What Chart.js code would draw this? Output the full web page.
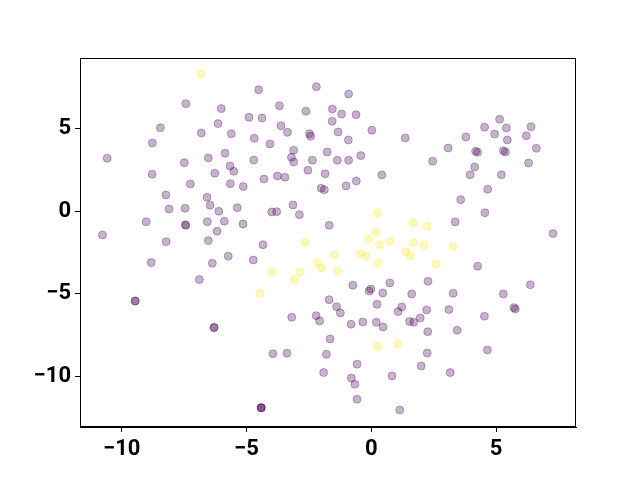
<!DOCTYPE html>
<html>
<head>
<meta charset="utf-8">
<script src="https://cdn.jsdelivr.net/npm/chart.js@4"></script>
<style>
  body { margin: 0; background: #fff; }
  #wrap { width: 640px; height: 480px; }
</style>
</head>
<body>
<div id="wrap"><canvas id="scatter" width="640" height="480"></canvas></div>
<script>
// --- data ---

// group 0 (dark purple)
const purpleX = [
  -7.43, -6.01, -4.90, -8.45, -6.14, -6.81, -5.61, -8.77, -10.58, -7.49,
  -6.53, -5.86, -5.66, -5.51, -6.27, -8.78, -7.25, -5.65, -5.13, -8.23,
  -6.58, -6.46, -6.11, -5.37, -8.10, -7.46, -9.02, -7.45, -7.43, -6.57,
  -5.89, -5.14, -6.18, -10.77, -8.22, -6.53,
  -4.51, -2.20, -0.91, -3.68, -2.62, -1.56, -1.19, -0.61, -4.38, -1.57,
  -3.62, -3.36, -2.48, -2.43, -1.33, 0.02, 1.36, -4.69, -4.06, -0.92,
  -3.11, -3.20, -3.11, -1.77, -4.71, -2.36, -1.36, -0.91, -0.42, -2.54,
  -1.85, -3.76, -3.46, -4.30, 0.42, -2.01, -1.88, -1.01, -0.60, -3.14,
  -2.88, -3.99, -3.79, -1.69, -4.34,
  5.14, 4.54, 5.41, 6.40, 4.94, 6.21, 3.79, 5.45, 3.08, 4.18,
  4.26, 5.29, 5.37, 6.61, 2.46, 6.30, 4.14, 3.96, 5.21, 4.66,
  3.58, 4.55, 3.36, 7.28,
  -8.82, -6.37, -5.73, -4.73, -6.89, -9.46, -9.46, -6.30, -6.30,
  -0.74, -0.02, -0.09, 0.74, 0.46, 1.62, -1.69, -1.39, -1.24, 0.23,
  1.22, 1.07, -2.21, -2.07, -3.19, -0.81, -0.34, 0.20, 0.47, 1.53,
  1.70, -1.65, -3.94, -3.38, -1.80, -0.57, -1.91, -0.80, -0.66, 0.83,
  -0.57, -4.41, -4.41, -4.41, 1.14,
  4.26, 2.27, 3.28, 5.29, 6.37, 2.22, 3.11, 5.71, 5.77, 4.53,
  1.96, 2.26, 3.44, 2.24, 4.65, 2.00, 3.16
];
const purpleY = [
  6.52, 6.22, 5.69, 5.06, 5.31, 4.74, 4.70, 4.14, 3.21, 2.94,
  3.23, 3.51, 2.74, 2.42, 2.30, 2.24, 1.65, 1.67, 1.49, 0.98,
  0.84, 0.36, -0.01, 0.21, 0.13, 0.18, -0.64, -0.82, -0.86, -0.64,
  -0.61, -0.78, -1.22, -1.44, -1.85, -1.78,
  7.37, 7.55, 7.11, 6.40, 6.06, 6.20, 5.89, 5.85, 5.65, 5.45,
  5.18, 4.78, 4.70, 4.54, 4.80, 4.91, 4.44, 4.42, 4.08, 4.32,
  3.69, 3.27, 2.98, 3.59, 3.10, 3.09, 3.09, 3.09, 3.37, 2.48,
  2.27, 2.13, 2.06, 1.95, 2.20, 1.39, 1.30, 1.53, 1.83, 0.38,
  -0.21, -0.05, -0.03, -0.86, -2.03,
  5.57, 5.09, 5.05, 5.12, 4.68, 4.58, 4.50, 4.32, 3.83, 3.63,
  3.57, 3.67, 3.59, 3.81, 3.03, 2.92, 2.68, 2.21, 2.21, 1.33,
  0.70, -0.09, -0.65, -1.36,
  -3.12, -3.16, -2.73, -2.96, -4.15, -5.45, -5.45, -7.06, -7.06,
  -4.49, -4.72, -4.84, -4.35, -4.96, -5.02, -5.37, -5.79, -6.17, -5.65,
  -5.81, -6.09, -6.34, -6.66, -6.43, -6.86, -6.72, -6.74, -7.02, -6.69,
  -6.73, -7.75, -8.64, -8.62, -8.68, -9.28, -9.79, -10.12, -10.50, -9.99,
  -11.41, -11.92, -11.92, -11.92, -12.06,
  -3.34, -4.25, -4.98, -5.02, -4.46, -5.99, -5.97, -5.85, -5.93, -6.37,
  -6.48, -7.31, -7.22, -8.60, -8.42, -9.39, -9.79
];

// group 1 (yellow)
const yellowX = [
  -6.83, 0.24, 1.67, 0.19, -0.12, 0.32, 0.74, 1.69, -2.66, 2.24,
  2.12, 3.27, -3.96, -2.84, -3.08, -4.47, -2.15, -1.99, -1.48, -1.35,
  -0.44, -0.20, 0.28, 1.39, 1.56, 0.26, 1.06, 2.60
];
const yellowY = [
  8.32, -0.11, -0.72, -1.28, -1.69, -2.03, -1.83, -1.90, -1.90, -0.92,
  -2.05, -2.14, -3.69, -3.71, -4.17, -4.98, -3.14, -3.44, -2.66, -3.64,
  -2.58, -2.74, -3.16, -2.46, -2.70, -8.19, -8.05, -3.22
];

// tick labels
const xTicks = [-10, -5, 0, 5];
const yTicks = [-10, -5, 0, 5];

// axis limits
const xLimits = [-11.67, 8.20];
const yLimits = [-13.09, 9.29];

function toPoints(xs, ys) {
    return xs.map((x, i) => ({ x: x, y: ys[i] }));
}

// black box around the plot area (matplotlib spines)
const framePlugin = {
    id: 'frame',
    afterDraw(chart) {
        const a = chart.chartArea;
        const c = chart.ctx;
        c.save();
        c.strokeStyle = '#000';
        c.lineWidth = 1;
        c.strokeRect(a.left + 0.5, a.top + 0.5, a.right - a.left - 1, a.bottom - a.top - 1);
        c.restore();
    }
};

const tickFont = { family: 'Roboto', size: 22, weight: 'bold' };
const fmt = v => String(v).replace('-', '\u2212');

const axisCommon = {
    type: 'linear',
    grid: { drawOnChartArea: false, color: '#000', tickColor: '#000', tickLength: 5, lineWidth: 1 },
    border: { display: true, color: '#000', width: 1 },
    ticks: { color: '#000', font: tickFont, padding: 4, callback: fmt }
};

new Chart(document.getElementById('scatter'), {
    type: 'scatter',
    data: {
        datasets: [
            {
                data: toPoints(purpleX, purpleY),
                backgroundColor: 'rgba(68, 1, 84, 0.3)',
                borderColor: 'rgba(68, 1, 84, 0.3)',
                borderWidth: 1,
                pointRadius: 4,
                pointHoverRadius: 4
            },
            {
                data: toPoints(yellowX, yellowY),
                backgroundColor: 'rgba(253, 231, 37, 0.3)',
                borderColor: 'rgba(253, 231, 37, 0.3)',
                borderWidth: 1,
                pointRadius: 4,
                pointHoverRadius: 4
            }
        ]
    },
    options: {
        responsive: false,
        animation: false,
        devicePixelRatio: 1,
        layout: { padding: { top: 58, right: 64, left: 0, bottom: 0 } },
        plugins: { legend: { display: false }, tooltip: { enabled: false } },
        scales: {
            x: {
                ...axisCommon,
                min: xLimits[0],
                max: xLimits[1],
                afterBuildTicks: s => { s.ticks = xTicks.map(v => ({ value: v })); },
                afterFit: s => { s.height = 53; }
            },
            y: {
                ...axisCommon,
                min: yLimits[0],
                max: yLimits[1],
                afterBuildTicks: s => { s.ticks = yTicks.map(v => ({ value: v })); },
                afterFit: s => { s.width = 80; }
            }
        }
    },
    plugins: [framePlugin]
});
</script>
</body>
</html>
